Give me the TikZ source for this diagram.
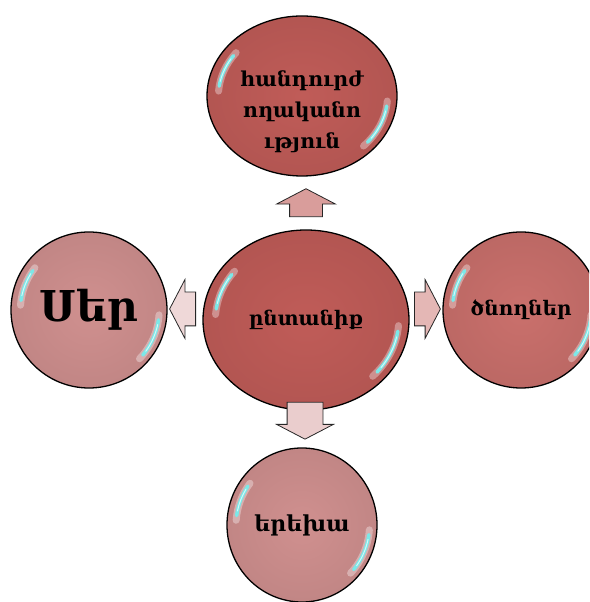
\documentclass[tikz,border=0pt]{standalone}
\usepackage{fontspec}
\newfontfamily\armfont[Script=Armenian]{DejaVu Serif}
\usetikzlibrary{shapes.geometric,shapes.arrows,positioning}

% colours of the bubbles and arrows
\definecolor{deepred}{RGB}{192,92,88}
\definecolor{midred}{RGB}{202,112,108}
\definecolor{palered}{RGB}{208,144,143}
\definecolor{gleam}{RGB}{80,225,225}

\tikzset{
  bubble/.style={ellipse, draw=black, line width=1.3pt, inner sep=0pt,
    shading=radial, inner color=#1, outer color=#1!93!black,
    align=center, text=black},
  armtext/.style={font=\armfont\bfseries\fontsize{#1}{31}\selectfont, align=center},
  blockarrow/.style={single arrow, draw=black!85, line width=0.8pt,
    fill=#1, inner xsep=0pt, single arrow tip angle=125,
    single arrow head indent=0pt},
  glow/.style={line width=7pt, line cap=round, color=white, opacity=0.35},
  shine/.style={line width=3.5pt, line cap=round, color=gleam!75!white},
  shinecore/.style={line width=1pt, line cap=round, color=white!75!gleam}
}

\begin{document}
\begin{tikzpicture}[x=1pt,y=1pt]
    % Fix the frame of the picture
    \useasboundingbox (0,0) rectangle (589,602);
    \clip (0,0) rectangle (589,602);

    % The five bubbles
    \node[bubble=deepred, armtext=20, minimum width=206pt, minimum height=180pt] (fam) at (306,282) {ընտանիք};
    \node[bubble=deepred, minimum width=190pt, minimum height=160pt] (tolerance) at (302,506) {};
    \node[armtext=20.5] (tolText) at ([yshift=-16pt]tolerance.center) {հանդուրժ\\ողականո\\ւթյուն};
    \node[bubble=palered, armtext=42.5, minimum width=156pt, minimum height=156pt] (love) at (89,292) {Սեր};
    \node[bubble=midred, armtext=20, minimum width=156pt, minimum height=156pt] (parents) at (521,292) {ծնողներ};
    \node[bubble=palered, armtext=22, minimum width=150pt, minimum height=154pt] (child) at (302,77) {երեխա};

    % Glossy streaks on each bubble (upper left and lower right)
    \foreach \n/\rx/\ry in {fam/103/90, tolerance/95/80, love/78/78, parents/78/78, child/75/77}{
        \draw[glow] ([shift={(142:0.88*\rx pt and 0.88*\ry pt)}]\n.center)
            arc[start angle=142, end angle=176, x radius=0.88*\rx pt, y radius=0.88*\ry pt];
        \draw[glow] ([shift={(-4:0.9*\rx pt and 0.9*\ry pt)}]\n.center)
            arc[start angle=-4, end angle=-44, x radius=0.9*\rx pt, y radius=0.9*\ry pt];
        \draw[shine] ([shift={(145:0.88*\rx pt and 0.88*\ry pt)}]\n.center)
            arc[start angle=145, end angle=172, x radius=0.88*\rx pt, y radius=0.88*\ry pt];
        \draw[shine] ([shift={(-8:0.9*\rx pt and 0.9*\ry pt)}]\n.center)
            arc[start angle=-8, end angle=-40, x radius=0.9*\rx pt, y radius=0.9*\ry pt];
        \draw[shinecore] ([shift={(148:0.88*\rx pt and 0.88*\ry pt)}]\n.center)
            arc[start angle=148, end angle=168, x radius=0.88*\rx pt, y radius=0.88*\ry pt];
        \draw[shinecore] ([shift={(-12:0.9*\rx pt and 0.9*\ry pt)}]\n.center)
            arc[start angle=-12, end angle=-36, x radius=0.9*\rx pt, y radius=0.9*\ry pt];
    }

    % Block arrows pointing out of the centre
    \node[blockarrow=deepred!60!white, rotate=90, inner ysep=16pt, single arrow head extend=13pt,
        minimum height=28pt] (arrTop) at (306,395) {};
    \node[blockarrow=palered!35!white, rotate=180, inner ysep=16.5pt, single arrow head extend=12.5pt,
        minimum height=26pt] (arrLeft) at (187,293) {};
    \node[blockarrow=midred!50!white, inner ysep=16.5pt, single arrow head extend=12.5pt,
        minimum height=26pt] (arrRight) at (423,293) {};
    \node[blockarrow=palered!45!white, rotate=270, inner ysep=17.5pt, single arrow head extend=10.5pt,
        minimum height=37pt] (arrDown) at (305,186) {};
\end{tikzpicture}
\end{document}
